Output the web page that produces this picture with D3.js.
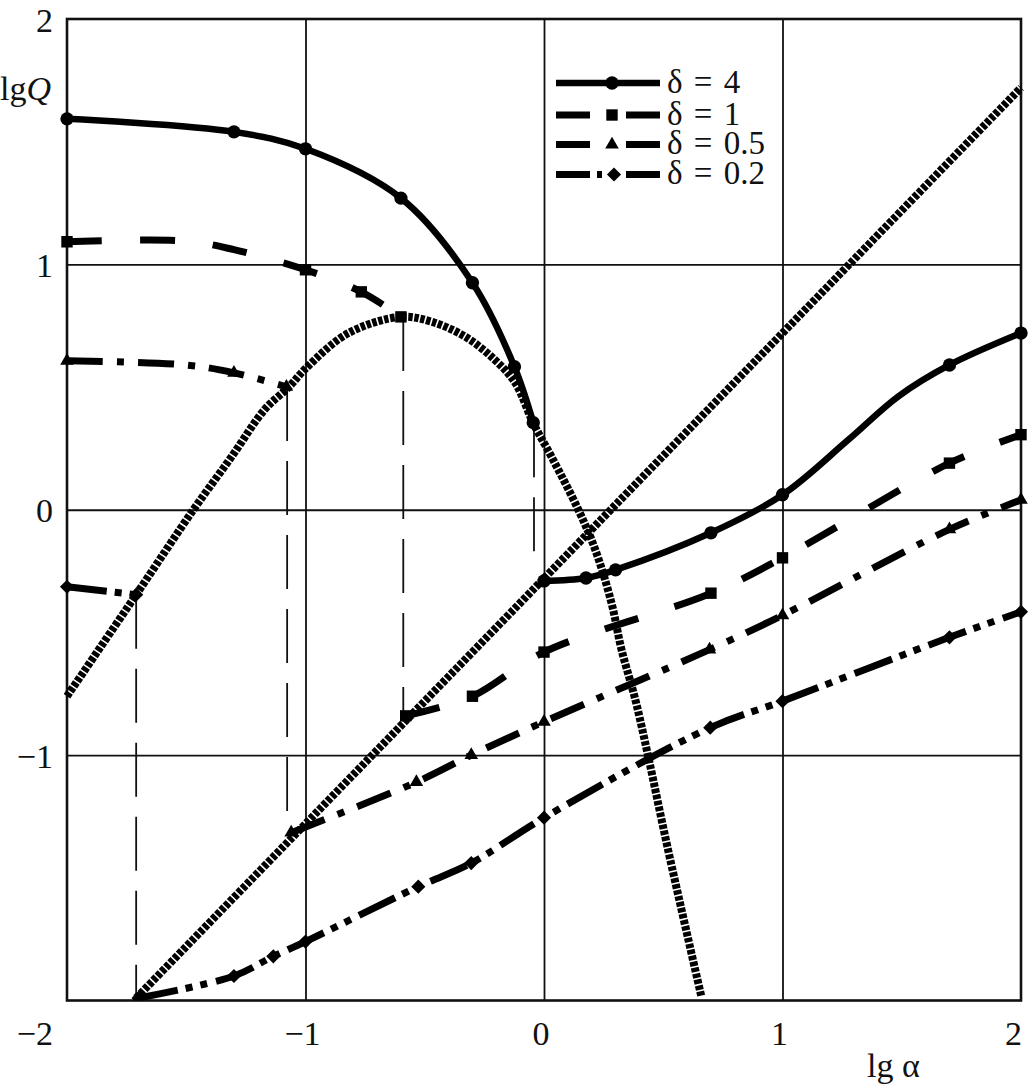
<!DOCTYPE html>
<html><head><meta charset="utf-8">
<script src="https://cdn.jsdelivr.net/npm/d3@7"></script>
<style>body{margin:0;background:#fff}svg{display:block}text{font-family:"Liberation Serif","Times New Roman",serif;fill:#111}</style>
</head><body>
<script>
// ---- data (lg α , lg Q , marker flag) ----
const xTickValues = [-1, 0, 1, 2];
const yTickValues = [2, 1, 0, -1];
const gridX = [-1, 0, 1];
const gridY = [-1, 0, 1];

const d4Left  = [[-2,1.593,1],[-1.30,1.54,1],[-1.0,1.471,1],[-0.60,1.27,1],[-0.30,0.925,1],[-0.124,0.583,1],[-0.045,0.355,1]];
const d4Right = [[0,-0.29,1],[0.176,-0.278,1],[0.30,-0.245,1],[0.70,-0.094,1],[1.0,0.061,1],[1.276,0.285,0],[1.486,0.462,0],[1.70,0.59,1],[2.0,0.72,1]];
const d1Left  = [[-2,1.092,1],[-1.5,1.095,0],[-1.3,1.06,0],[-1.0,0.978,1],[-0.766,0.888,1],[-0.60,0.786,1]];
const d1Right = [[-0.58,-0.84,1],[-0.30,-0.76,1],[0,-0.58,1],[0.70,-0.34,1],[1.0,-0.196,1],[1.70,0.19,1],[2.0,0.306,1]];
const d05Left = [[-2,0.607,1],[-1.5,0.59,0],[-1.30,0.558,1],[-1.08,0.501,1]];
const d05Right= [[-1.06,-1.316,1],[-0.535,-1.11,1],[-0.305,-1.0,1],[0,-0.864,1],[0.694,-0.57,1],[1.0,-0.43,1],[1.70,-0.08,1],[2.0,0.04,1]];
const d02Left = [[-2,-0.314,1],[-1.71,-0.346,1]];
const d02Right= [[-1.70,-1.99,1],[-1.30,-1.90,1],[-1.135,-1.82,1],[-1.0,-1.76,1],[-0.527,-1.536,1],[-0.305,-1.44,1],[0,-1.255,1],[0.697,-0.888,1],[1.0,-0.78,1],[1.70,-0.52,1],[2.0,-0.416,1]];
const envelope = [[-2,-0.76],[-1.71,-0.346],[-1.47,0],[-1.31,0.216],[-1.17,0.41],[-1.07,0.50],[-1.0,0.575],[-0.82,0.72],[-0.6,0.786],[-0.47,0.766],[-0.33,0.705],[-0.205,0.61],[-0.12,0.516],[-0.045,0.353],[0.032,0.215],[0.144,0],[0.215,-0.163],[0.283,-0.38],[0.325,-0.57],[0.383,-0.774],[0.437,-1.006],[0.52,-1.385],[0.66,-1.985]];
const diagonal = [[-1.71,-1.99],[2,1.72]];
const guides = [[-1.71,-0.346,-2],[-1.077,0.50,-1.24],[-0.59,0.786,-0.84],[-0.042,0.353,-0.175]];
const legendLabels = ["δ = 4","δ = 1","δ = 0.5","δ = 0.2"];

const W = 1035, H = 1086;
const x = d3.scaleLinear().domain([-2,2]).range([67,1021]);
const y = d3.scaleLinear().domain([-2,2]).range([1000.5,19]);

const svg = d3.select("body").append("svg").attr("width",W).attr("height",H);
svg.append("rect").attr("width",W).attr("height",H).attr("fill","#fff");

// grid via axes
const gx = svg.append("g").attr("transform",`translate(0,${y(-2)})`)
  .call(d3.axisBottom(x).tickValues(gridX).tickSize(-(y(-2)-y(2))).tickFormat(""));
const gy = svg.append("g").attr("transform",`translate(${x(-2)},0)`)
  .call(d3.axisLeft(y).tickValues(gridY).tickSize(-(x(2)-x(-2))).tickFormat(""));
[gx,gy].forEach(g=>{g.select(".domain").remove();g.selectAll("line").attr("stroke","#111").attr("stroke-width",1.8);});

// frame
svg.append("rect").attr("x",x(-2)).attr("y",y(2)).attr("width",x(2)-x(-2)).attr("height",y(-2)-y(2))
  .attr("fill","none").attr("stroke","#111").attr("stroke-width",2.6);

// tick labels
const fs = 34;
svg.append("g").selectAll("text").data(yTickValues).join("text")
  .attr("x",53).attr("y",d=>y(d)+12.5).attr("text-anchor","end").attr("font-size",fs)
  .text(d=>d<0?"\u2212"+Math.abs(d):d);
svg.append("text").attr("x",53).attr("y",1045).attr("text-anchor","end").attr("font-size",fs).text("\u22122");
svg.append("g").selectAll("text").data(xTickValues).join("text")
  .attr("x",d=>d===2?x(d)+1:x(d)-3).attr("y",1045).attr("text-anchor",d=>d===2?"end":"middle").attr("font-size",fs)
  .text(d=>d<0?"\u2212"+Math.abs(d):d);

// axis titles
const tq = svg.append("text").attr("x",0).attr("y",100).attr("font-size",fs);
tq.append("tspan").text("lg");
tq.append("tspan").attr("font-style","italic").text("Q");
svg.append("text").attr("x",867).attr("y",1077).attr("font-size",fs).text("lg α");

// clip
svg.append("clipPath").attr("id","pc").append("rect")
  .attr("x",x(-2)-8).attr("y",y(2)).attr("width",x(2)-x(-2)+16).attr("height",y(-2)-y(2));
const plot = svg.append("g").attr("clip-path","url(#pc)");

// thin dashed guides
plot.selectAll("line.guide").data(guides).join("line").attr("class","guide")
  .attr("x1",d=>x(d[0])).attr("x2",d=>x(d[0])).attr("y1",d=>y(d[1])).attr("y2",d=>y(d[2]))
  .attr("stroke","#111").attr("stroke-width",1.8).attr("stroke-dasharray","54,20");

const line = d3.line().x(d=>x(d[0])).y(d=>y(d[1])).curve(d3.curveCatmullRom.alpha(0.5));
const lineLin = d3.line().x(d=>x(d[0])).y(d=>y(d[1]));

// dotted curves
plot.append("path").attr("d",line(envelope)).attr("fill","none").attr("stroke","#000").attr("stroke-width",8).attr("stroke-dasharray","4.5,1.6");
plot.append("path").attr("d",lineLin(diagonal)).attr("fill","none").attr("stroke","#000").attr("stroke-width",8).attr("stroke-dasharray","4.5,1.6");

const series = [
  {parts:[d4Left,d4Right], dash:null, w:6.5, sym:"circle"},
  {parts:[d1Left,d1Right], dash:"35,38", w:7, sym:"square"},
  {parts:[d05Left,d05Right], dash:"36,14,7,14", w:7, sym:"triangle"},
  {parts:[d02Left,d02Right], dash:"40,8,7,8,7,9", w:7, sym:"diamond"}
];
const symGen = {
  circle: d3.symbol(d3.symbolCircle, 140),
  square: d3.symbol(d3.symbolSquare, 130),
  triangle: d3.symbol(d3.symbolTriangle, 80),
  diamond: d3.symbol(d3.symbolSquare, 100)
};
const symRot = {circle:0,square:0,triangle:0,diamond:45};
series.forEach(s=>{
  s.parts.forEach(p=>{
    plot.append("path").attr("d",line(p)).attr("fill","none").attr("stroke","#000")
      .attr("stroke-width",s.w).attr("stroke-dasharray",s.dash).attr("stroke-linecap","butt");
  });
  const pts = s.parts.flat().filter(d=>d[2]);
  plot.selectAll(null).data(pts).join("path")
    .attr("transform",d=>`translate(${x(d[0])},${y(d[1])}) rotate(${symRot[s.sym]})`).attr("d",symGen[s.sym]()).attr("fill","#000");
});

// legend
const lg = svg.append("g");
const ly = [83,115,144.5,174.5];
series.forEach((s,i)=>{
  const yy = ly[i];
  if(i===0){
    lg.append("line").attr("x1",556).attr("x2",660).attr("y1",yy).attr("y2",yy).attr("stroke","#000").attr("stroke-width",6.5);
  } else {
    [[556,590],[626,660]].forEach(seg=>lg.append("line").attr("x1",seg[0]).attr("x2",seg[1]).attr("y1",yy).attr("y2",yy).attr("stroke","#000").attr("stroke-width",7));
    if(i===3) lg.append("rect").attr("x",597).attr("y",yy-3.5).attr("width",5).attr("height",7).attr("fill","#000");
  }
  lg.append("path").attr("transform",`translate(${i===3?614:612},${yy}) rotate(${symRot[s.sym]})`).attr("d",symGen[s.sym]()).attr("fill","#000");
  lg.append("text").attr("x",667).attr("y",yy+9.5).attr("font-size",33).attr("word-spacing",3).text(legendLabels[i]);
});
</script>
</body></html>
